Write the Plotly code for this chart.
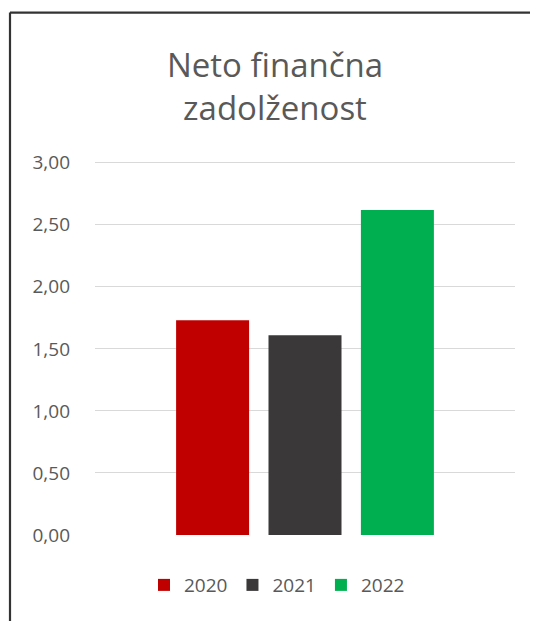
import plotly.graph_objects as go

# Data
series_names = ["2020", "2021", "2022"]
values = [1.73, 1.61, 2.62]
colors = ["#C00000", "#3A3838", "#00B050"]
category = [""]
tick_vals = [0, 0.5, 1.0, 1.5, 2.0, 2.5, 3.0]
y_max = 3.03

# page body has an 8px default margin: work in window pixels, convert to figure pixels
OFF = 8
W, H = 538 - OFF, 621 - OFF
PX0, PX1, PY1 = 95, 515, 535          # plot area in window pixels
PY0 = PY1 - (PY1 - 163) * y_max / 3.0  # 3,00 gridline lands at y=163
L, R, T, B = PX0 - OFF, W - (PX1 - OFF), PY0 - OFF, H - (PY1 - OFF)
pw, ph = W - L - R, H - T - B

def px_x(x):
    return (x - OFF - L) / pw

def px_y(y):
    return 1 - (y - OFF - T) / ph

fig = go.Figure()
for name, v, c in zip(series_names, values, colors):
    fig.add_trace(go.Bar(x=category, y=[v], name=name, marker=dict(color=c, line=dict(width=0)),
                         hoverinfo="y+name"))

fig.update_layout(
    width=W, height=H,
    margin=dict(l=L, r=R, t=T, b=B),
    paper_bgcolor="white", plot_bgcolor="white",
    separators=",.",
    barmode="group", bargap=0.34, bargroupgap=0.21,
    font=dict(family="Open Sans, Liberation Sans, sans-serif", color="#595959"),
    title=dict(text="Neto finančna<br>zadolženost", x=(275 - OFF) / W, xanchor="center",
               y=1 - (77 - OFF) / H, yanchor="middle",
               font=dict(size=33, color="#595959", family="Open Sans, sans-serif")),
    xaxis=dict(showticklabels=False, showgrid=False, zeroline=False, showline=False,
               fixedrange=True),
    yaxis=dict(range=[0, y_max], tickvals=tick_vals, tickformat=".2f",
               showgrid=True, gridcolor="#D9D9D9", gridwidth=1.4,
               zeroline=False, showline=False, ticks="", ticklen=0,
               tickfont=dict(size=19, color="#595959"), ticklabelstandoff=24),
    legend=dict(orientation="h", x=px_x(277), xanchor="center", y=px_y(585), yanchor="middle",
                font=dict(size=19, color="#595959"), itemwidth=30, traceorder="normal",
                itemsizing="constant"),
    showlegend=True,
)

# Frame around the chart
fig.add_shape(type="line", xref="paper", yref="paper",
              x0=px_x(10), x1=px_x(10), y0=px_y(13), y1=px_y(640),
              line=dict(color="#333333", width=2.2))
fig.add_shape(type="line", xref="paper", yref="paper",
              x0=px_x(10), x1=px_x(545), y0=px_y(13), y1=px_y(13),
              line=dict(color="#333333", width=2.2))
fig.add_shape(type="line", xref="paper", yref="paper",
              x0=px_x(537), x1=px_x(537), y0=px_y(13), y1=px_y(640),
              line=dict(color="#E6E6E6", width=1))

fig.write_html("out.html")
